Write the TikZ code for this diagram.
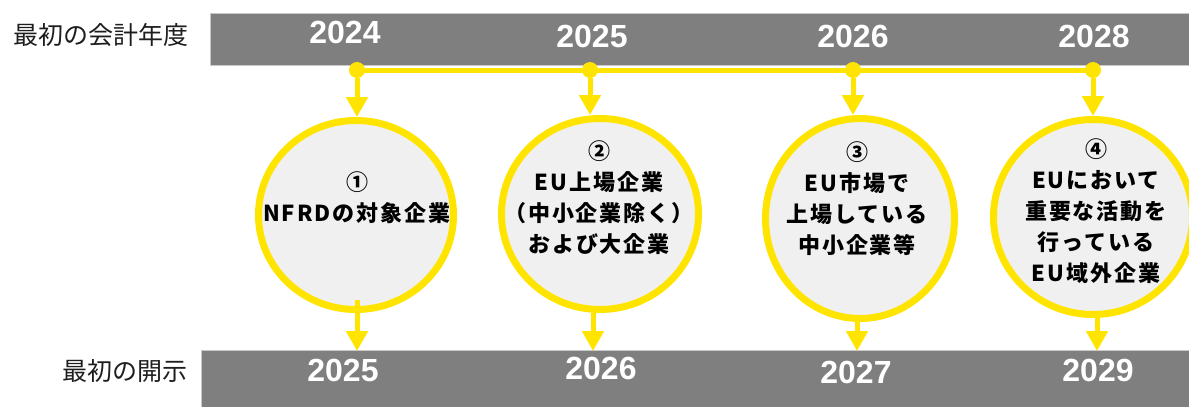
\documentclass[tikz,border=0pt]{standalone}
\usepackage{fontspec}
\setmainfont{Liberation Sans}
\newfontfamily\jp{Noto Sans CJK JP}
\newfontfamily\jpwide[LetterSpace=9]{Noto Sans CJK JP}
\usetikzlibrary{shapes.geometric,arrows.meta}
\definecolor{barc}{RGB}{127,127,127}
\definecolor{barline}{RGB}{200,200,200}
\definecolor{ylw}{RGB}{255,228,0}
\definecolor{cfill}{RGB}{240,240,240}
\definecolor{lbl}{RGB}{30,30,30}
\tikzset{
  bar/.style={fill=barc, draw=barline, line width=0.8pt, rectangle, inner sep=0pt, anchor=north west},
  year/.style={font=\bfseries\fontsize{32}{32}\selectfont, text=white, inner sep=0pt},
  rowlabel/.style={font=\jp\fontsize{25}{25}\selectfont, text=lbl, inner sep=0pt},
  dotnode/.style={circle, fill=ylw, minimum size=16pt, inner sep=0pt},
  yline/.style={draw=ylw, line width=5pt},
  yarrow/.style={draw=ylw, line width=5pt, -{Triangle[width=21pt,length=20pt]}},
  ring/.style={ellipse, draw=ylw, fill=cfill, line width=7pt, inner sep=0pt},
  ctext/.style={font=\jpwide\bfseries\fontsize{22}{31}\selectfont, align=center, text=black, inner sep=0pt}
}
\begin{document}
\begin{tikzpicture}[x=1pt,y=-1pt]
\useasboundingbox (0,0) rectangle (1189,407);
% bars
\node[bar, minimum width=979pt, minimum height=52pt] (topbar) at (210,13) {};
\node[bar, minimum width=988pt, minimum height=58pt] (botbar) at (201,350) {};
% row labels
\node[rowlabel] (lfy) at (101,35) {最初の会計年度};
\node[rowlabel] (ldis) at (125,371) {最初の開示};
% top years
\node[year] (y1) at (345,32) {2024};
\node[year] (y2) at (592,36) {2025};
\node[year] (y3) at (853,36) {2026};
\node[year] (y4) at (1094,36) {2028};
% bottom years
\node[year] (z1) at (343,370) {2025};
\node[year] (z2) at (601,368) {2026};
\node[year] (z3) at (856,372) {2027};
\node[year] (z4) at (1098,370) {2029};
% circles
\node[ring, minimum width=195pt, minimum height=189pt] (c1) at (356,215) {};
\node[ring, minimum width=197pt, minimum height=191pt] (c2) at (600,214) {};
\node[ring, minimum width=189pt, minimum height=200pt] (c3) at (860,218.5) {};
\node[ring, minimum width=199pt, minimum height=195pt] (c4) at (1093,217) {};
% circle texts
\node[ctext] (t1) at (357,198) {①\\NFRDの対象企業};
\node[ctext] (t2) at (599,198) {②\\EU上場企業\\（中小企業除く）\\および大企業};
\node[ctext] (t3) at (857,199) {③\\EU市場で\\上場している\\中小企業等};
\node[ctext] (t4) at (1096,211) {④\\EUにおいて\\重要な活動を\\行っている\\EU域外企業};
% timeline
\node[dotnode] (d1) at (357,70) {};
\node[dotnode] (d2) at (590,70) {};
\node[dotnode] (d3) at (853,70) {};
\node[dotnode] (d4) at (1093,70) {};
\draw[yline] (d1.center) -- (d4.center);
\draw[yarrow] (d1) -- (d1 |- c1.north);
\draw[yarrow] (d2) -- (d2 |- c2.north);
\draw[yarrow] (d3) -- (d3 |- c3.north);
\draw[yarrow] (d4) -- (d4 |- c4.north);
% bottom arrows
\coordinate (b1) at (357,351);
\coordinate (b2) at (593,351);
\coordinate (b3) at (857,351);
\coordinate (b4) at (1097,351);
\coordinate (s1) at (357,300);
\draw[yarrow] (s1) -- (b1);
\draw[yarrow] (b2 |- c2.south) -- (b2);
\draw[yarrow] (b3 |- c3.south) -- (b3);
\draw[yarrow] (b4 |- c4.south) -- (b4);
\end{tikzpicture}
\end{document}
